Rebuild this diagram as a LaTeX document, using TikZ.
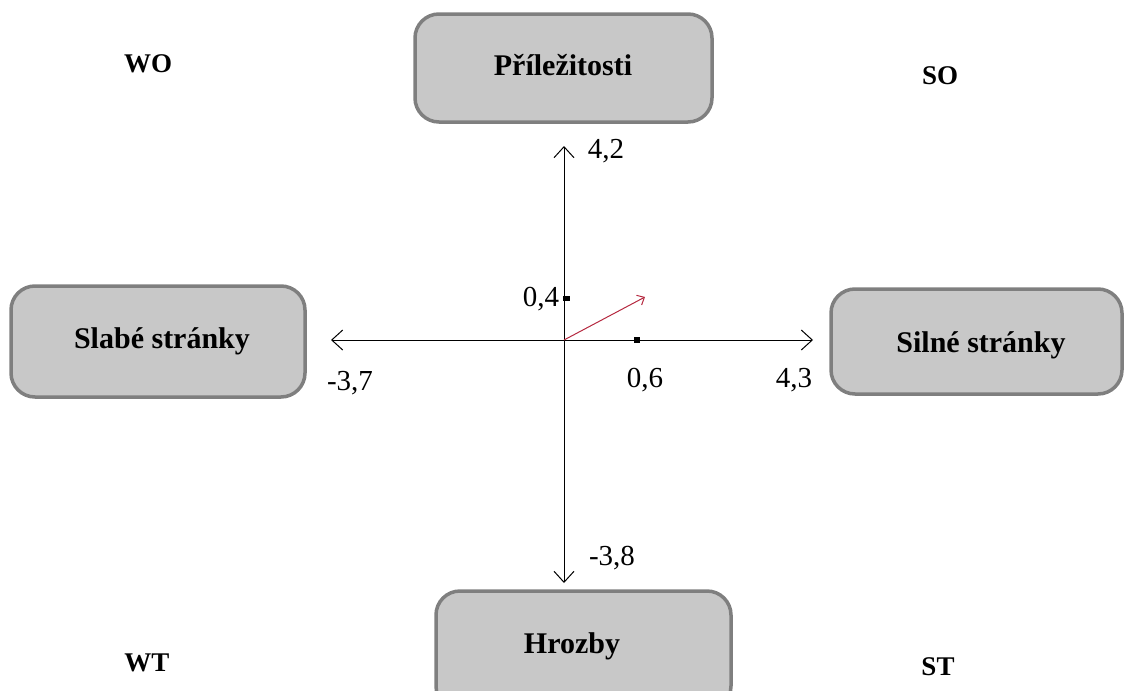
\documentclass[tikz,border=0pt]{standalone}
\usepackage{fontspec}
\setmainfont{Liberation Serif}
\usetikzlibrary{arrows.meta}
\definecolor{boxfill}{HTML}{C8C8C8}
\definecolor{boxline}{HTML}{7F7F7F}
\definecolor{vecred}{HTML}{B5283F}
\begin{document}
\begin{tikzpicture}[x=1pt,y=-1pt,
  swotbox/.style={draw=boxline, line width=3.5pt, fill=boxfill, rounded corners=24pt},
  boxtext/.style={font=\fontsize{30}{34}\selectfont\bfseries, anchor=base, inner sep=0pt},
  quad/.style={font=\fontsize{27}{31}\selectfont\bfseries, anchor=base, inner sep=0pt},
  val/.style={font=\fontsize{29}{33}\selectfont, anchor=base, inner sep=0pt},
  axis/.style={line width=1pt, -{Straight Barb[length=11pt,width=20pt,line width=1pt]}},
  tick/.style={fill=black, minimum width=7pt, minimum height=5pt, inner sep=0pt}]
\useasboundingbox (0,0) rectangle (1125,691);
% boxes
\draw[swotbox] (415,14) rectangle (712,122);
\node[boxtext] (pril) at (563,75) {Příležitosti};
\draw[swotbox] (11,286) rectangle (305,397);
\node[boxtext] (slabe) at (162,348) {Slabé stránky};
\draw[swotbox] (831,289) rectangle (1122,394);
\node[boxtext] (silne) at (981,352) {Silné stránky};
\draw[swotbox] (436,591) rectangle (731,710);
\node[boxtext] (hroz) at (572,653) {Hrozby};
% quadrant labels
\node[quad] (wo) at (148,72) {WO};
\node[quad] (so) at (940,84) {SO};
\node[quad] (wt) at (147,671) {WT};
\node[quad] (st) at (938,675) {ST};
% axes
\coordinate (o) at (564,340);
\coordinate (top) at (564,146);
\coordinate (bot) at (564,583);
\coordinate (lft) at (331,340);
\coordinate (rgt) at (813,340);
\draw[axis] (o) -- (top);
\draw[axis] (o) -- (bot);
\draw[axis] (o) -- (lft);
\draw[axis] (o) -- (rgt);
% ticks
\node[tick] (t04) at (566,298) {};
\node[tick, minimum width=6pt, minimum height=6pt] (t06) at (637,340) {};
% values
\node[val] (v42) at (606,158) {4,2};
\node[val] (v37) at (350,390) {-3,7};
\node[val] (v43) at (794,387) {4,3};
\node[val] (v38) at (612,565) {-3,8};
\node[val] (v04) at (541,306) {0,4};
\node[val] (v06) at (645,387) {0,6};
% vector
\coordinate (vend) at (645,297);
\draw[vecred, line width=1pt, -{Straight Barb[length=6pt,width=11pt,line width=1pt]}] (o) -- (vend);
\end{tikzpicture}
\end{document}
